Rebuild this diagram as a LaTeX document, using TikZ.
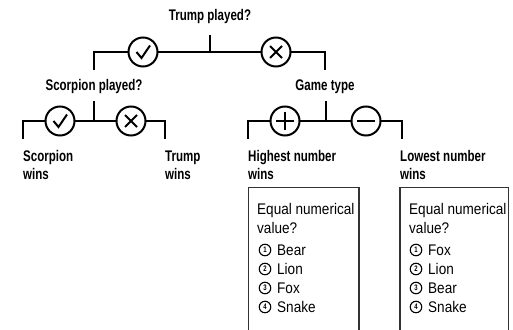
\documentclass[tikz,border=0pt]{standalone}
\usepackage{fontspec}
\setmainfont{Liberation Sans}[FakeStretch=0.88]
\newfontfamily\headfont{Liberation Sans}[FakeStretch=0.75]
\usetikzlibrary{calc}
\tikzset{branch/.style = {line width=2pt}}
\tikzset{choice/.style = {circle,draw,line width=2pt,fill=white,minimum size=29pt,inner sep=0pt}}
\tikzset{yes/.style = {choice,path picture={\draw[line width=2pt]
    ([shift={(-6.5,0)}]path picture bounding box.center) -- ++(5,6) -- ++(8.5,-12.5);}}}
\tikzset{no/.style = {choice,path picture={\draw[line width=2pt]
    ([shift={(-6,-6)}]path picture bounding box.center) -- ([shift={(6,6)}]path picture bounding box.center)
    ([shift={(-6,6)}]path picture bounding box.center) -- ([shift={(6,-6)}]path picture bounding box.center);}}}
\tikzset{plus/.style = {choice,path picture={\draw[line width=2pt]
    ([shift={(-9,0)}]path picture bounding box.center) -- ([shift={(9,0)}]path picture bounding box.center)
    ([shift={(0,-9)}]path picture bounding box.center) -- ([shift={(0,9)}]path picture bounding box.center);}}}
\tikzset{minus/.style = {choice,path picture={\draw[line width=2pt]
    ([shift={(-9,0)}]path picture bounding box.center) -- ([shift={(9,0)}]path picture bounding box.center);}}}
\tikzset{question/.style = {anchor=base,inner sep=0pt,font=\headfont\bfseries\fontsize{15.4}{18.5}\selectfont}}
\tikzset{outcome/.style = {anchor=base west,inner sep=0pt,align=left,font=\headfont\bfseries\fontsize{15.4}{18.5}\selectfont}}
\tikzset{rankbox/.style = {draw=black!80,line width=1.2pt}}
\tikzset{boxtext/.style = {anchor=base west,inner sep=0pt,align=left,font=\fontsize{15.4}{19}\selectfont}}
\tikzset{rank/.style = {circle,draw,line width=1.1pt,minimum size=11.5pt,inner sep=0pt,font=\headfont\bfseries\fontsize{8}{8}\selectfont}}

\begin{document}
\begin{tikzpicture}[x=1pt,y=-1pt]
            \useasboundingbox (0,0) rectangle (513,329);

            % Questions
            \node[question] (qtrump) at (210,20.7) {Trump played?};
            \node[question] (qscorp) at (94,90.3) {Scorpion played?};
            \node[question] (qgame) at (325,90.3) {Game type};

            % Trump played?
            \coordinate (trumpT) at (210,35);
            \coordinate (trumpJ) at (210,52);
            \coordinate (trumpL) at (94,70);
            \coordinate (trumpR) at (325,70);
            \draw[branch] (trumpT) -- (trumpJ);
            \draw[branch] (trumpL) |- (trumpJ) -| (trumpR);
            \node[yes] (trumpyes) at (143,52) {};
            \node[no] (trumpno) at (276,52) {};

            % Scorpion played?
            \coordinate (scorpT) at (94,101);
            \coordinate (scorpJ) at (94,121);
            \coordinate (scorpL) at (23,139);
            \coordinate (scorpR) at (165,139);
            \draw[branch] (scorpT) -- (scorpJ);
            \draw[branch] (scorpL) |- (scorpJ) -| (scorpR);
            \node[yes] (scorpyes) at (60,121) {};
            \node[no] (scorpno) at (131,121) {};

            % Game type
            \coordinate (gameT) at (326,101);
            \coordinate (gameJ) at (326,121);
            \coordinate (gameL) at (248,139);
            \coordinate (gameR) at (402,139);
            \draw[branch] (gameT) -- (gameJ);
            \draw[branch] (gameL) |- (gameJ) -| (gameR);
            \node[plus] (gamehigh) at (285,121) {};
            \node[minus] (gamelow) at (366,121) {};

            % Outcomes
            \node[outcome] (winscorp) at (23,179.5) {Scorpion\\wins};
            \node[outcome] (wintrump) at (165,179.5) {Trump\\wins};
            \node[outcome] (winhigh) at (248,179.5) {Highest number\\wins};
            \node[outcome] (winlow) at (400,179.5) {Lowest number\\wins};

            % Tie-break boxes
            \draw[rankbox] (248.5,330) |- (359,187.5) -- (359,330);
            \draw[rankbox] (400,330) |- (508.5,187.5) -- (508.5,330);
            \node[boxtext] (hinote) at (257,233) {Equal numerical\\value?};
            \node[boxtext] (lonote) at (409,233) {Equal numerical\\value?};
            \foreach \animal [count=\i] in {Bear,Lion,Fox,Snake} {
                \node[rank] (hirank\i) at (265,{250+19*(\i-1)}) {\i};
                \node[boxtext] (hiitem\i) at (277,{255.5+19*(\i-1)}) {\animal};
            }
            \foreach \animal [count=\i] in {Fox,Lion,Bear,Snake} {
                \node[rank] (lorank\i) at (416,{250+19*(\i-1)}) {\i};
                \node[boxtext] (loitem\i) at (428,{255.5+19*(\i-1)}) {\animal};
            }
        \end{tikzpicture}
\end{document}
